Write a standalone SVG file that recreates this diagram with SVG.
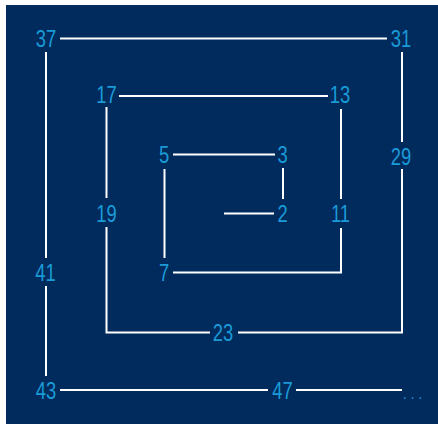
<svg xmlns="http://www.w3.org/2000/svg" width="438" height="424" viewBox="0 0 438 424">
<style>
.bg{fill:#002b5c}
.ln{fill:none;stroke:#ffffff;stroke-width:2;stroke-linejoin:miter;stroke-linecap:butt}
.lb{fill:#1b9ad8;font-family:"Liberation Sans",Arial,sans-serif;font-size:23px;text-anchor:middle}
.dots{fill:#1b9ad8;font-family:"Liberation Sans",Arial,sans-serif;font-size:16px;letter-spacing:5px}
</style>
<rect class="bg" x="6" y="5" width="432" height="419"/>
<g id="connectors">
<path class="ln" d="M224 213.5H274"/>
<path class="ln" d="M283 199V168"/>
<path class="ln" d="M275 154.5H173"/>
<path class="ln" d="M164.5 169V258"/>
<path class="ln" d="M173 272.5H341V228"/>
<path class="ln" d="M341 199V109"/>
<path class="ln" d="M328 96H119"/>
<path class="ln" d="M106.5 107V198"/>
<path class="ln" d="M106.5 227V332.5H210"/>
<path class="ln" d="M238 332.5H402V169"/>
<path class="ln" d="M402 142V52"/>
<path class="ln" d="M387 38.5H60"/>
<path class="ln" d="M46 52V258"/>
<path class="ln" d="M46 286V376"/>
<path class="ln" d="M60 390H268"/>
<path class="ln" d="M296 390H402"/>
</g>
<g id="n2"><text class="lb" transform="translate(282.5 221.5) scale(0.8 1)">2</text></g>
<g id="n3"><text class="lb" transform="translate(282.5 162.5) scale(0.8 1)">3</text></g>
<g id="n5"><text class="lb" transform="translate(164 162.5) scale(0.8 1)">5</text></g>
<g id="n7"><text class="lb" transform="translate(164 280.5) scale(0.8 1)">7</text></g>
<g id="n11"><text class="lb" transform="translate(340.5 221.5) scale(0.8 1)">11</text></g>
<g id="n13"><text class="lb" transform="translate(340 102.5) scale(0.8 1)">13</text></g>
<g id="n17"><text class="lb" transform="translate(106.5 102.5) scale(0.8 1)">17</text></g>
<g id="n19"><text class="lb" transform="translate(106.5 221.5) scale(0.8 1)">19</text></g>
<g id="n23"><text class="lb" transform="translate(223 340.5) scale(0.8 1)">23</text></g>
<g id="n29"><text class="lb" transform="translate(401 164.5) scale(0.8 1)">29</text></g>
<g id="n31"><text class="lb" transform="translate(401 46.5) scale(0.8 1)">31</text></g>
<g id="n37"><text class="lb" transform="translate(46 46.5) scale(0.8 1)">37</text></g>
<g id="n41"><text class="lb" transform="translate(45.5 280.5) scale(0.8 1)">41</text></g>
<g id="n43"><text class="lb" transform="translate(46 398.5) scale(0.8 1)">43</text></g>
<g id="n47"><text class="lb" transform="translate(282.5 398.5) scale(0.8 1)">47</text></g>
<g id="ellipsis"><text class="dots" transform="translate(403 398.5) scale(0.82 1)">...</text></g>
</svg>
